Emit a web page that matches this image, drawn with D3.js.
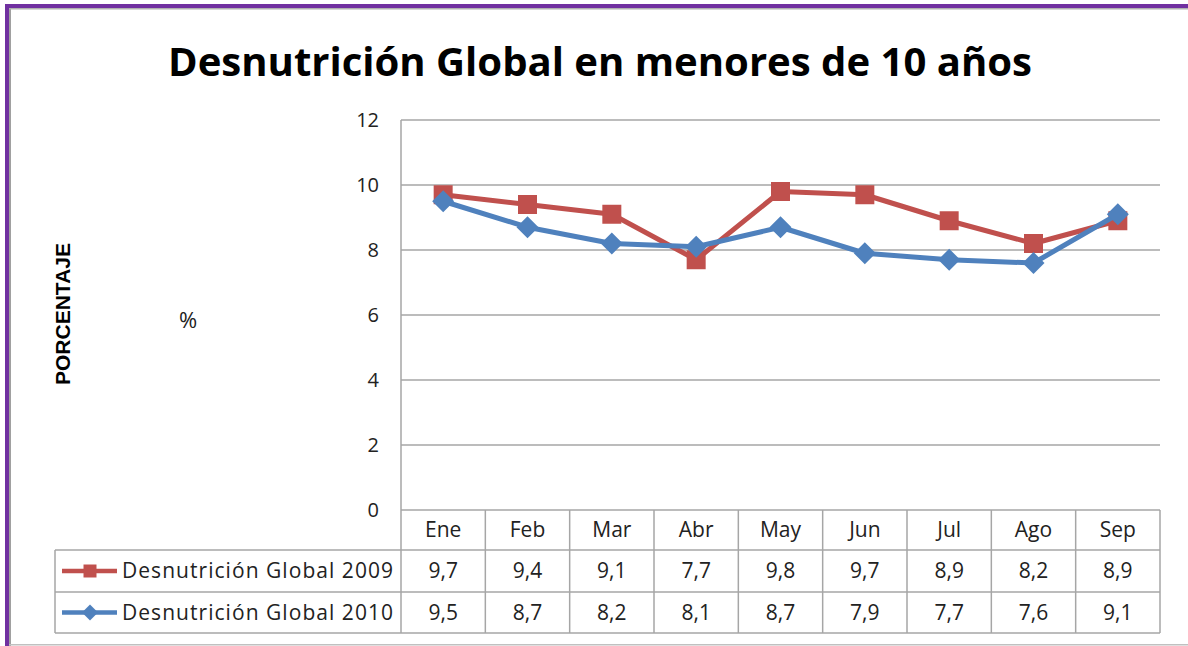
<!DOCTYPE html>
<html>
<head>
<meta charset="utf-8">
<script src="https://cdn.jsdelivr.net/npm/d3@7"></script>
<style>
  body { margin: 0; background: #fff; }
  svg { display: block; font-family: "Open Sans", "Liberation Sans", sans-serif; }
</style>
</head>
<body>
<div id="chart"></div>
<script>

// Data.
var months = ['Ene', 'Feb', 'Mar', 'Abr', 'May', 'Jun', 'Jul', 'Ago', 'Sep'];
var values2009 = [9.7, 9.4, 9.1, 7.7, 9.8, 9.7, 8.9, 8.2, 8.9];
var values2010 = [9.5, 8.7, 8.2, 8.1, 8.7, 7.9, 7.7, 7.6, 9.1];
var yTicks = [0, 2, 4, 6, 8, 10, 12];

var series = [
  { name: 'Desnutrición Global 2009', values: values2009, color: '#C0504D', marker: 'square' },
  { name: 'Desnutrición Global 2010', values: values2010, color: '#4F81BD', marker: 'diamond' }
];

var W = 1188, H = 646;
var plot = { left: 401, right: 1160, top: 120, bottom: 510 };
var rowH = [40, 42, 41];
var legendLeft = 55;
var grid = '#A6A6A6';

// Marker path: square, or a square turned 45 degrees.
function marker(type, r) {
  if (type === 'square') {
    return 'M' + (-r) + ',' + (-r) + 'H' + r + 'V' + r + 'H' + (-r) + 'Z';
  }
  return 'M0,' + (-r) + 'L' + r + ',0L0,' + r + 'L' + (-r) + ',0Z';
}

var svg = d3.select('#chart').append('svg')
  .attr('width', W).attr('height', H);

// Frame: purple border on top and left, thin gray inner line.
svg.append('rect').attr('x', 0).attr('y', 0).attr('width', W).attr('height', H).attr('fill', '#fff');
svg.append('rect').attr('x', 5).attr('y', 4).attr('width', W - 5).attr('height', 4).attr('fill', '#7030A0');
svg.append('rect').attr('x', 5).attr('y', 4).attr('width', 4).attr('height', H - 4).attr('fill', '#7030A0');
svg.append('rect').attr('x', 9).attr('y', 8).attr('width', 2).attr('height', H - 8).attr('fill', '#A0A0A0');
svg.append('rect').attr('x', 9).attr('y', 8).attr('width', W - 9).attr('height', 1.5).attr('fill', '#B0B0B0');
svg.append('rect').attr('x', 9).attr('y', 644).attr('width', W - 9).attr('height', 1.5).attr('fill', '#C0C0C0');

var x = d3.scaleBand().domain(months).range([plot.left, plot.right]);
var y = d3.scaleLinear().domain([0, 12]).range([plot.bottom, plot.top]);

// Title.
svg.append('text')
  .attr('x', 600).attr('y', 76)
  .attr('text-anchor', 'middle')
  .attr('font-size', 40).attr('font-weight', 'bold')
  .attr('textLength', 864).attr('lengthAdjust', 'spacingAndGlyphs')
  .attr('fill', '#000')
  .text('Desnutrición Global en menores de 10 años');

// Gridlines.
svg.append('g').selectAll('line').data(yTicks).join('line')
  .attr('x1', plot.left).attr('x2', plot.right)
  .attr('y1', function(d) { return y(d); }).attr('y2', function(d) { return y(d); })
  .attr('stroke', grid).attr('stroke-width', 1.5);

// Y axis line.
svg.append('line')
  .attr('x1', plot.left).attr('x2', plot.left)
  .attr('y1', plot.top).attr('y2', plot.bottom)
  .attr('stroke', grid).attr('stroke-width', 1.5);

// Y tick labels.
var yAxis = svg.append('g')
  .attr('transform', 'translate(' + (plot.left - 22) + ',0)')
  .call(d3.axisLeft(y).tickValues(yTicks).tickSize(0).tickPadding(0));
yAxis.select('.domain').remove();
yAxis.selectAll('text')
  .attr('font-size', 20).attr('fill', '#222')
  .attr('font-family', '"Open Sans", "Liberation Sans", sans-serif');

// Axis titles.
svg.append('text')
  .attr('transform', 'translate(70,314) rotate(-90)')
  .attr('text-anchor', 'middle')
  .attr('font-family', '"Liberation Sans", sans-serif')
  .attr('font-size', 20).attr('font-weight', 'bold')
  .attr('textLength', 142).attr('lengthAdjust', 'spacingAndGlyphs')
  .text('PORCENTAJE');
svg.append('text')
  .attr('x', 188).attr('y', 328)
  .attr('text-anchor', 'middle')
  .attr('font-size', 22).attr('fill', '#222')
  .text('%');

// Data table.
var rowTop = [plot.bottom, plot.bottom + rowH[0], plot.bottom + rowH[0] + rowH[1]];
var tableBottom = rowTop[2] + rowH[2];
var table = svg.append('g');

table.selectAll('line.h').data([rowTop[1], rowTop[2], tableBottom]).join('line')
  .attr('x1', legendLeft).attr('x2', plot.right)
  .attr('y1', function(d) { return d; }).attr('y2', function(d) { return d; })
  .attr('stroke', grid).attr('stroke-width', 1.5);

var colEdges = months.map(function(m) { return x(m); }).concat([plot.right]);
table.selectAll('line.v').data(colEdges).join('line')
  .attr('x1', function(d) { return d; }).attr('x2', function(d) { return d; })
  .attr('y1', plot.bottom).attr('y2', tableBottom)
  .attr('stroke', grid).attr('stroke-width', 1.5);

table.append('line')
  .attr('x1', legendLeft).attr('x2', legendLeft)
  .attr('y1', rowTop[1]).attr('y2', tableBottom)
  .attr('stroke', grid).attr('stroke-width', 1.5);

table.selectAll('text.month').data(months).join('text')
  .attr('x', function(d) { return x(d) + x.bandwidth() / 2; })
  .attr('y', rowTop[0] + rowH[0] / 2 + 7)
  .attr('text-anchor', 'middle')
  .attr('font-size', 21).attr('fill', '#222')
  .text(function(d) { return d; });

var fmt = function(v) { return d3.format('.1f')(v).replace('.', ','); };

series.forEach(function(s, i) {
  var cy = rowTop[i + 1] + rowH[i + 1] / 2;
  table.selectAll('text.val' + i).data(s.values).join('text')
    .attr('x', function(d, j) { return x(months[j]) + x.bandwidth() / 2; })
    .attr('y', cy + 7)
    .attr('text-anchor', 'middle')
    .attr('font-size', 21).attr('fill', '#222')
    .text(fmt);

  // Legend key.
  table.append('line')
    .attr('x1', 62).attr('x2', 117).attr('y1', cy).attr('y2', cy)
    .attr('stroke', s.color).attr('stroke-width', 4.5);
  table.append('path')
    .attr('transform', 'translate(90,' + cy + ')')
    .attr('d', marker(s.marker, s.marker === 'square' ? 6.5 : 8))
    .attr('fill', s.color);
  table.append('text')
    .attr('x', 122).attr('y', cy + 7)
    .attr('font-size', 21).attr('fill', '#222')
    .attr('textLength', 271).attr('lengthAdjust', 'spacing')
    .text(s.name);
});

// Lines and markers.
var line = d3.line()
  .x(function(d, i) { return x(months[i]) + x.bandwidth() / 2; })
  .y(function(d) { return y(d); });

series.forEach(function(s) {
  var g = svg.append('g');
  g.append('path')
    .attr('d', line(s.values))
    .attr('fill', 'none')
    .attr('stroke', s.color)
    .attr('stroke-width', 5)
    .attr('stroke-linejoin', 'round');
  g.selectAll('path.m').data(s.values).join('path')
    .attr('transform', function(d, i) {
      return 'translate(' + (x(months[i]) + x.bandwidth() / 2) + ',' + y(d) + ')';
    })
    .attr('d', marker(s.marker, s.marker === 'square' ? 9.5 : 11))
    .attr('fill', s.color);
});

</script>
</body>
</html>
